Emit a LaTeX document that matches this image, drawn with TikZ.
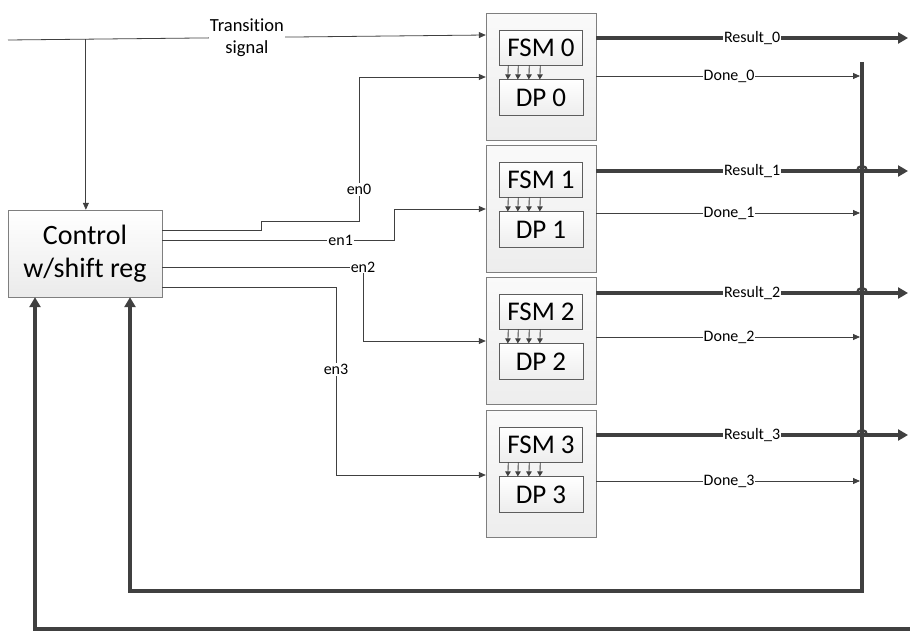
\documentclass[tikz,border=0pt]{standalone}
\usepackage{fontspec}
\setmainfont{Carlito}[Ligatures=NoCommon]
\usetikzlibrary{arrows.meta,positioning,calc}
\definecolor{linegray}{HTML}{404040}
\definecolor{edgegray}{HTML}{7F7F7F}
\tikzset{
  ctrl style/.style={rectangle, draw=edgegray, top color=white, bottom color=gray!16,
    minimum width=154pt, minimum height=87pt, inner sep=0pt, align=center,
    font=\fontsize{28}{33}\selectfont},
  blk style/.style={rectangle, draw=edgegray, top color=gray!4, bottom color=gray!14,
    minimum width=110pt, minimum height=127pt, inner sep=0pt},
  sub style/.style={rectangle, draw=linegray!85, top color=white, bottom color=gray!14,
    minimum width=83pt, minimum height=35pt, inner sep=0pt, font=\fontsize{27}{30}\selectfont},
  sig style/.style={draw=linegray, line width=0.8pt, -{Triangle[length=7pt,width=6pt]}},
  bus style/.style={draw=linegray, line width=3.6pt, -{Triangle[length=10pt,width=11pt]}},
  tip style/.style={draw=linegray, line width=0.9pt, -{Triangle[length=5pt,width=5.5pt]}},
  lbl style/.style={fill=white, inner sep=1pt, font=\fontsize{16}{19}\selectfont}
}
\begin{document}
\begin{tikzpicture}[x=1pt, y=-1pt]
\useasboundingbox (0,0) rectangle (910,631);
% control unit
\node[ctrl style] (ctrl) at (85,253.5) {Control\\w/shift reg};
% the four FSM/DP blocks
\foreach \i/\top in {0/13,1/145,2/277,3/410} {
  \node[blk style, anchor=north] (blk\i) at (541,\top) {};
  \node[sub style, below=17pt of blk\i.north] (fsm\i) {FSM \i};
  \node[sub style, minimum width=84pt, minimum height=36pt, below=14pt of fsm\i] (dp\i) {DP \i};
  \foreach \dx in {9,19,30,41}
    \draw[tip style] ([xshift=\dx pt]fsm\i.south west) -- ([xshift=\dx pt]dp\i.north west);
}
% transition signal
\coordinate (tin) at (8,40);
\draw[sig style] (tin) -- coordinate[pos=0.163] (tap)
  node[lbl style, midway, align=center, font=\fontsize{18.5}{22}\selectfont] {Transition\\signal}
  (blk0.west |- 0,35);
\draw[sig style] (tap) -- (ctrl.north -| tap);
% enables
\draw[sig style] (ctrl.east |- 0,230) -| (261,221) -- (359,221)
  -- node[lbl style, pos=0.22] {en0} (359,77) -- (blk0.west |- 0,77);
\draw[sig style] (ctrl.east |- 0,240) -- node[lbl style, pos=0.77] {en1} (394,240)
  |- (blk1.west |- 0,209);
\draw[sig style] (ctrl.east |- 0,267) -| node[lbl style, pos=0.5] {en2} (363,341)
  -- (blk2.west |- 0,341);
\draw[sig style] (ctrl.east |- 0,287) -| node[lbl style, pos=0.72] {en3} (336,475)
  -- (blk3.west |- 0,475);
% outputs
\coordinate (bustop) at (862,62);
\coordinate (busbot) at (862,591);
\foreach \i/\res/\done in {0/38/76,1/171/213,2/293/337,3/435/481} {
  \draw[bus style] (blk\i.east |- 0,\res) -- node[lbl style] {Result\_\i} (908,\res);
  \draw[sig style, shorten >=2pt] (blk\i.east |- 0,\done) -- node[lbl style] {Done\_\i} (bustop |- 0,\done);
}
% done bus back to control
\draw[bus style] (bustop) -- (busbot) -| (ctrl.south -| 130,0);
\coordinate (rin) at (910,629);
\draw[bus style] (rin) -| (ctrl.south -| 35,0);
% hops where results cross the bus
\foreach \res in {171,293,435}
  \draw[linegray, line width=2.4pt] (857,\res) arc[start angle=180, end angle=360, radius=5];
\end{tikzpicture}
\end{document}
